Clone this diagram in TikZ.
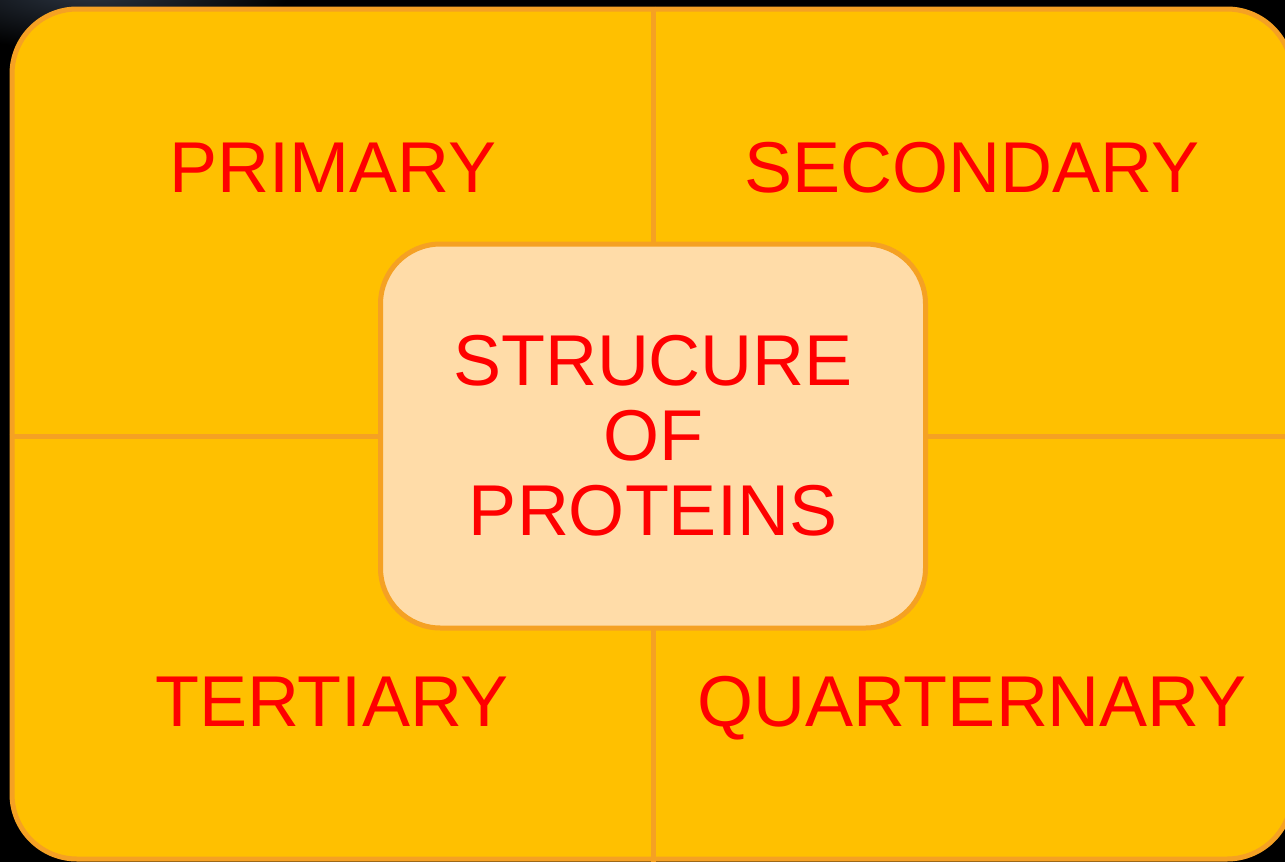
\documentclass[tikz,border=0pt]{standalone}
\usepackage{fontspec}
\setmainfont{Liberation Sans}
\definecolor{tileyellow}{HTML}{FFC000}
\definecolor{tileedge}{HTML}{F5A123}
\definecolor{hubfill}{HTML}{FFDCA8}
\definecolor{labelred}{HTML}{FF0000}
\definecolor{slate}{HTML}{2C3542}
\tikzset{
    panel/.style={draw=tileedge, fill=tileyellow, line width=5pt, rounded corners=65pt},
    divider/.style={draw=tileedge, line width=5pt},
    hub/.style={draw=tileedge, fill=hubfill, line width=5pt, rounded corners=60pt,
        align=center, text=labelred, font=\fontsize{72}{75}\selectfont},
    quadrant label/.style={text=labelred, font=\fontsize{72}{75}\selectfont, anchor=base},
    pixel units/.style={
        x=1pt,
        y=-1pt,
        inner sep=0pt
    }
}

\begin{document}
\begin{tikzpicture}[pixel units]

    % 0. Page and dark backdrop
    \useasboundingbox (0,0) rectangle (1285,862);
    \fill[black] (0,0) rectangle (1285,862);
    \begin{scope}
        \clip (0,0) rectangle (1285,862);
        \shade[inner color=slate, outer color=black] (90,-10) ellipse (200 and 60);
    \end{scope}

    % 1. Outer card
    \node[panel, minimum width=1280, minimum height=850] (card) at (652,434) {};

    % 2. Dividers between the four quadrants
    \coordinate (cross) at (653,436);
    \draw[divider] (cross |- card.north) -- (cross |- card.south);
    \draw[divider] (cross -| card.west) -- (cross -| card.east);

    % 3. Quadrant labels
    \node[quadrant label] (primary) at (333,192) {PRIMARY};
    \node[quadrant label] (secondary) at (972,192) {SECONDARY};
    \node[quadrant label] (tertiary) at (332,726) {TERTIARY};
    \node[quadrant label] (quarternary) at (972,726) {QUARTERNARY};

    % 4. Centre box
    \node[hub, minimum width=545, minimum height=384] (hub) at (cross) {STRUCURE\\OF\\PROTEINS};

\end{tikzpicture}
\end{document}
